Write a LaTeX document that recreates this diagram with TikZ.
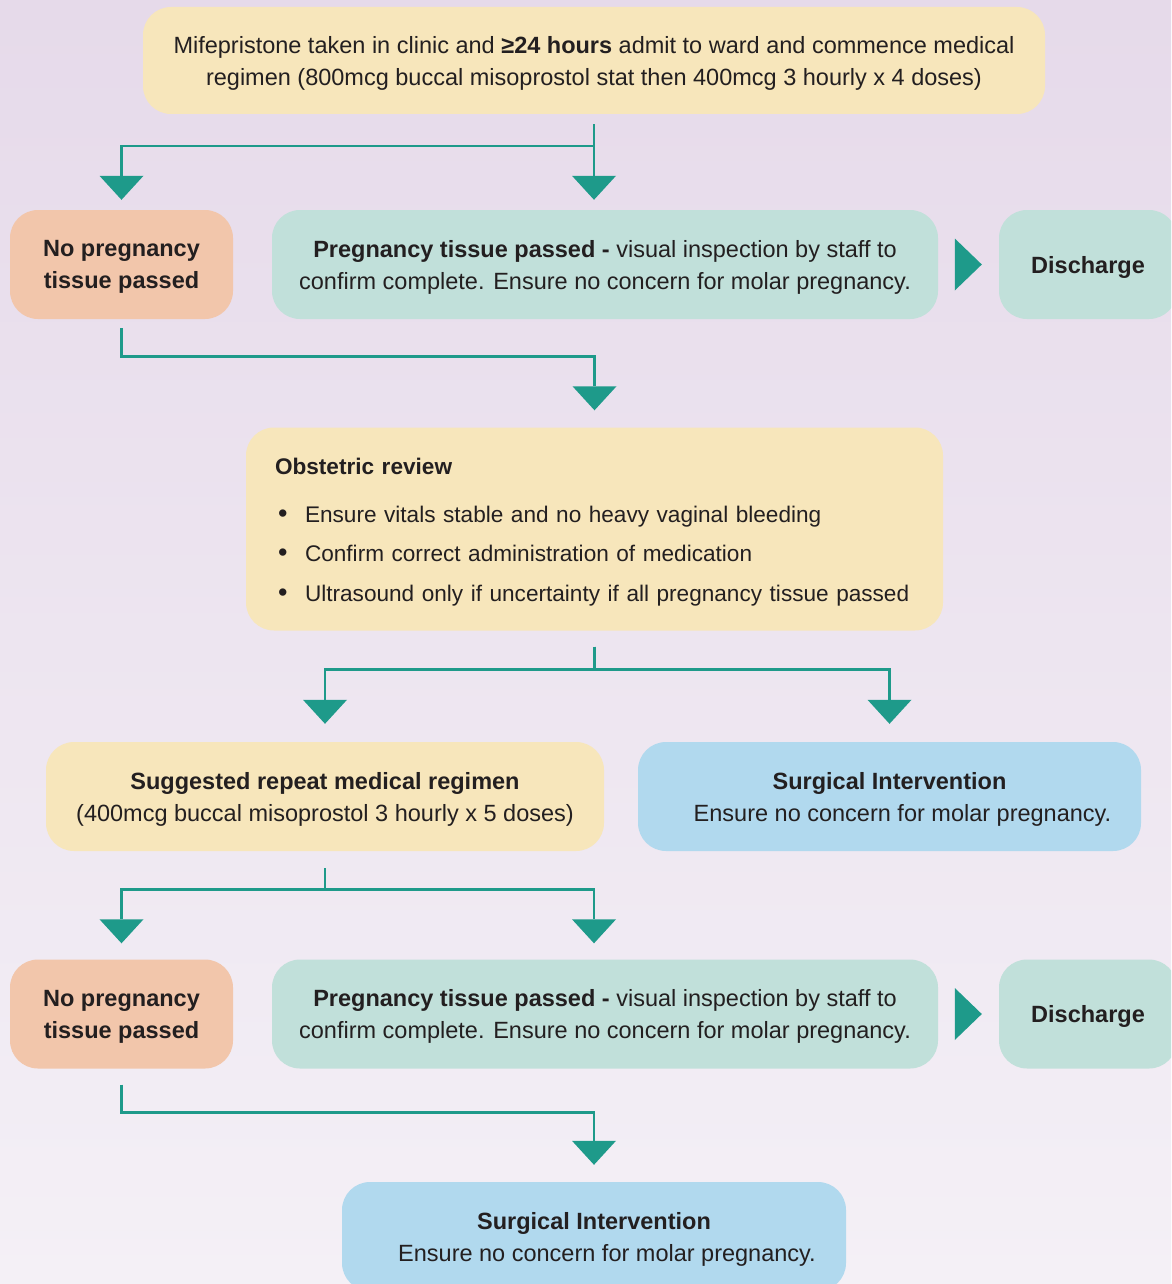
\documentclass[tikz,border=0pt]{standalone}
\usepackage{fontspec}
\setmainfont{Liberation Sans}
\usetikzlibrary{arrows.meta}
\definecolor{bgtop}{HTML}{E6DAEA}
\definecolor{bgbot}{HTML}{F4F0F6}
\definecolor{cyel}{HTML}{F7E6BB}
\definecolor{csal}{HTML}{F2C6AB}
\definecolor{cmint}{HTML}{C1E0DA}
\definecolor{cblue}{HTML}{B1D9EE}
\definecolor{cteal}{HTML}{1E9A8A}
\definecolor{ctext}{HTML}{231F20}
\newcommand{\bul}{\makebox[30pt][l]{\hspace*{3pt}{\fontsize{27}{27}\selectfont•}}}
\begin{document}
\begin{tikzpicture}[x=1pt,y=-1pt,
  box/.style={rectangle, rounded corners=28pt, inner sep=0pt, align=center,
    text=ctext, font=\fontsize{23.5}{32}\selectfont, text depth=-1pt},
  yel/.style={box, fill=cyel},
  sal/.style={box, fill=csal},
  mint/.style={box, fill=cmint},
  blue/.style={box, fill=cblue},
  conn/.style={draw=cteal, line width=2.6pt,
    -{Triangle[width=44pt,length=24pt,line width=0pt]}},
  sidetip/.style={draw=cteal, line width=1pt,
    -{Triangle[width=52pt,length=27pt,line width=0pt]}},
]
\useasboundingbox (0,0) rectangle (1171,1284);
\clip (0,0) rectangle (1171,1284);
\fill[top color=bgtop, bottom color=bgbot] (0,0) rectangle (1171,1284);

% nodes
\node[yel, minimum width=902pt, minimum height=107pt] (top) at (594,60.5)
  {Mifepristone taken in clinic and \textbf{≥24 hours} admit to ward and commence medical\\
   regimen (800mcg buccal misoprostol stat then 400mcg 3 hourly x 4 doses)};

\node[sal, minimum width=223pt, minimum height=109pt] (np1) at (121.5,264.5)
  {\textbf{No pregnancy}\\\textbf{tissue passed}};
\node[mint, minimum width=666pt, minimum height=109pt] (tp1) at (605,264.5)
  {\textbf{Pregnancy tissue passed -} visual inspection by staff to\\
   confirm complete. Ensure no concern for molar pregnancy.};
\node[mint, minimum width=178pt, minimum height=109pt] (dis1) at (1088,264.5)
  {\textbf{Discharge}};

\node[yel, text depth=, minimum width=697pt, minimum height=203pt, text width=639pt, align=left,
      font=\fontsize{22.6}{39.5}\selectfont] (ob) at (594.5,529)
  {\rule{0pt}{22pt}\textbf{Obstetric review}\\[8.5pt]
   \bul Ensure vitals stable and no heavy vaginal bleeding\\
   \bul Confirm correct administration of medication\\
   \bul Ultrasound only if uncertainty if all pregnancy tissue passed};

\node[yel, minimum width=558pt, minimum height=109pt] (rep) at (325,796.5)
  {\textbf{Suggested repeat medical regimen}\\
   (400mcg buccal misoprostol 3 hourly x 5 doses)};
\node[blue, minimum width=503pt, minimum height=109pt] (surg1) at (889.5,796.5)
  {\textbf{Surgical Intervention}\\
   \hspace*{26pt}Ensure no concern for molar pregnancy.};

\node[sal, minimum width=223pt, minimum height=109pt] (np2) at (121.5,1014)
  {\textbf{No pregnancy}\\\textbf{tissue passed}};
\node[mint, minimum width=666pt, minimum height=109pt] (tp2) at (605,1014)
  {\textbf{Pregnancy tissue passed -} visual inspection by staff to\\
   confirm complete. Ensure no concern for molar pregnancy.};
\node[mint, minimum width=178pt, minimum height=109pt] (dis2) at (1088,1014)
  {\textbf{Discharge}};

\node[blue, minimum width=504pt, minimum height=109pt] (surg2) at (594,1236.5)
  {\textbf{Surgical Intervention}\\
   \hspace*{26pt}Ensure no concern for molar pregnancy.};

% connectors
\draw[conn, shorten >=10pt] ([yshift=-10pt]top.south) -- ++(0,22) -| (np1.north);
\draw[conn, shorten >=10pt] ([yshift=-10pt]top.south) -- (top.south |- tp1.north);
\draw[sidetip, shorten <=17pt, shorten >=17pt] (tp1.east) -- (dis1.west);

\draw[conn, shorten >=17pt] ([yshift=-9pt]np1.south) -- ++(0,28) -| (ob.north);

\draw[conn, shorten >=18pt] ([yshift=-16pt]ob.south) -- ++(0,23) -| (rep.north);
\draw[conn, shorten >=18pt] ([yshift=-16pt]ob.south) -- ++(0,23) -| (surg1.north);

\draw[conn, shorten >=16pt] ([yshift=-17pt]rep.south) -- ++(0,21) -| (np2.north);
\draw[conn, shorten >=16pt] ([yshift=-17pt]rep.south) -- ++(0,21) -| ([xshift=-11pt]tp2.north);
\draw[sidetip, shorten <=17pt, shorten >=17pt] (tp2.east) -- (dis2.west);

\draw[conn, shorten >=17pt] ([yshift=-16pt]np2.south) -- ++(0,28) -| (surg2.north);
\end{tikzpicture}
\end{document}
